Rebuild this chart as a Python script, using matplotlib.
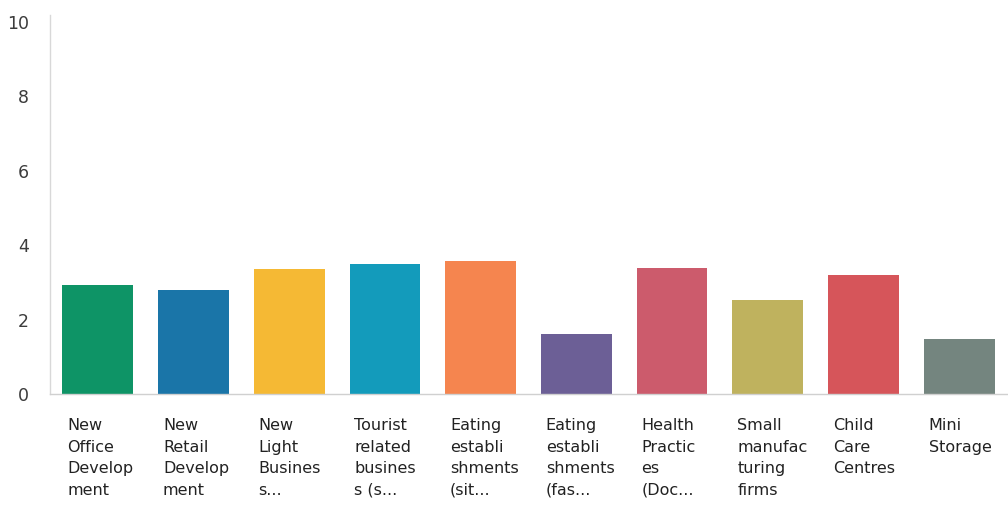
import matplotlib
matplotlib.use("Agg")
import matplotlib.pyplot as plt
import numpy as np

categories = [
    "New\nOffice\nDevelop\nment",
    "New\nRetail\nDevelop\nment",
    "New\nLight\nBusines\ns...",
    "Tourist\nrelated\nbusines\ns (s...",
    "Eating\nestabli\nshments\n(sit...",
    "Eating\nestabli\nshments\n(fas...",
    "Health\nPractic\nes\n(Doc...",
    "Small\nmanufac\nturing\nfirms",
    "Child\nCare\nCentres",
    "Mini\nStorage",
]
values = [2.93, 2.80, 3.36, 3.49, 3.58, 1.62, 3.38, 2.53, 3.20, 1.47]
colors = ["#0e9466", "#1a75a8", "#f5b934", "#139bbb", "#f5854f",
          "#6c5f96", "#cc5b6c", "#bfb25e", "#d6555a", "#74857f"]
yticks = [0, 2, 4, 6, 8, 10]

fig = plt.figure(figsize=(10.08, 5.25), dpi=100)
ax = fig.add_axes([50 / 1008, 1 - 394 / 525, 957 / 1008, 372 / 525])

x = np.arange(len(values))
width = 0.74
ax.bar(x, values, width=width, color=colors, zorder=2)

ax.set_xlim(-0.5, len(values) - 0.5)
ax.set_ylim(0, 10)
ax.set_yticks(yticks)
ax.set_yticklabels([str(t) for t in yticks], fontsize=12.5, color="#3c3c3c")
ax.tick_params(axis="y", length=0, pad=15)
ax.set_xticks([])

for side in ["top", "right"]:
    ax.spines[side].set_visible(False)
ax.spines["left"].set_color("#d8d8d8")
ax.spines["bottom"].set_color("#d0d0d0")
ax.spines["left"].set_linewidth(1.0)
ax.spines["bottom"].set_linewidth(1.0)
ax.spines["left"].set_bounds(0, 10.2)

trans = ax.get_xaxis_transform()
for i, label in enumerate(categories):
    ax.text(i - width / 2 + 0.05, -0.065, label, transform=trans,
            ha="left", va="top", fontsize=11.5, color="#222222",
            linespacing=1.55, clip_on=False)

fig.savefig("out.png", dpi=100, facecolor="white")
